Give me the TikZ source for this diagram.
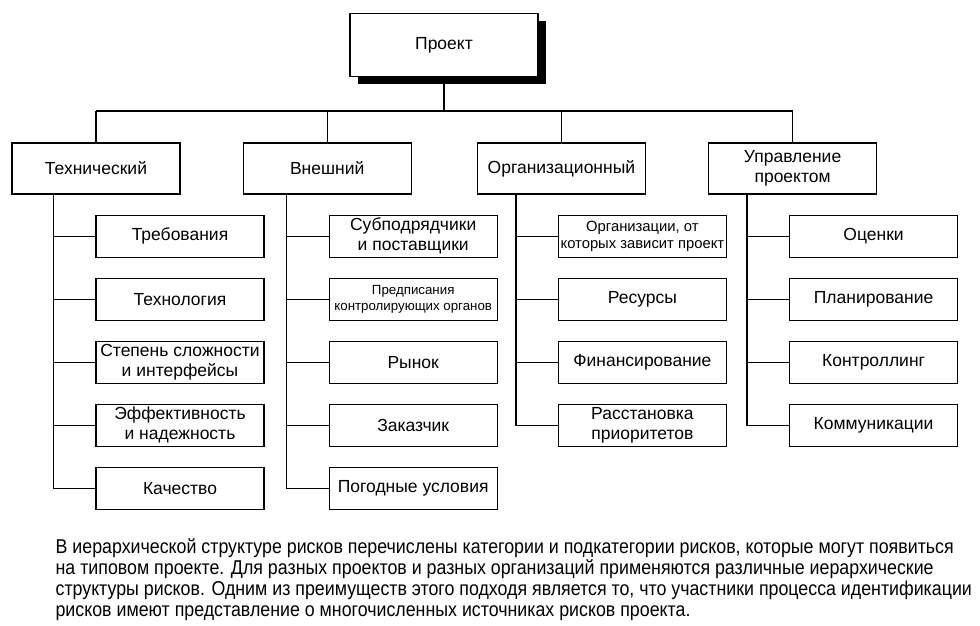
\documentclass[tikz,border=0pt]{standalone}
\usepackage{fontspec}
\setmainfont{Liberation Sans}
\newfontfamily\narrowfont[FakeStretch=0.89]{Liberation Sans}
\usetikzlibrary{positioning,shadows}

\begin{document}
\begin{tikzpicture}[x=1pt, y=-1pt, line width=1.4pt]
  \tikzstyle{every node}=[align=center, draw, rectangle, line width=1.2pt, inner sep=0pt, font=\fontsize{17.5}{20}\selectfont]
  \tikzstyle{cat}=[minimum width=168pt, minimum height=51pt]
  \tikzstyle{sub}=[minimum width=168pt, minimum height=42pt]
  \useasboundingbox (0,0) rectangle (980,626);
  % \draw [step=50, blue!20, thin] (0,0) grid (980,626);
  \node [minimum width=188pt, minimum height=63pt, fill=white,
    drop shadow={shadow xshift=8pt, shadow yshift=-8pt, fill=black, opacity=1}] (proekt) at (444,45) {Проект};
  \node [cat] (tech) at (96,168.5) {Технический};
  \node [cat, right = 62pt of tech] (ext) {Внешний};
  \node [cat, right = 65pt of ext] (org) {Организационный};
  \node [cat, right = 62pt of org] (pm) {Управление\\проектом};

  \node [sub, below right = 20pt and 84pt of tech.south west] (t1) {Требования};
  \node [sub, below = 19.8pt of t1] (t2) {Технология};
  \node [sub, below = 19.8pt of t2] (t3) {Степень сложности\\и интерфейсы};
  \node [sub, below = 19.8pt of t3] (t4) {Эффективность\\и надежность};
  \node [sub, below = 19.8pt of t4] (t5) {Качество};

  \node [sub, below right = 20pt and 86pt of ext.south west] (e1) {Субподрядчики\\и поставщики};
  \node [sub, below = 19.8pt of e1, font=\fontsize{13.3}{15.5}\selectfont] (e2) {Предписания\\контролирующих органов};
  \node [sub, below = 19.8pt of e2] (e3) {Рынок};
  \node [sub, below = 19.8pt of e3] (e4) {Заказчик};
  \node [sub, below = 19.8pt of e4] (e5) {Погодные условия};

  \node [sub, below right = 20pt and 81pt of org.south west, font=\fontsize{14.8}{17}\selectfont] (o1) {Организации, от\\которых зависит проект};
  \node [sub, below = 19.8pt of o1] (o2) {Ресурсы};
  \node [sub, below = 19.8pt of o2] (o3) {Финансирование};
  \node [sub, below = 19.8pt of o3] (o4) {Расстановка\\приоритетов};

  \node [sub, below right = 20pt and 81pt of pm.south west] (p1) {Оценки};
  \node [sub, below = 19.8pt of p1] (p2) {Планирование};
  \node [sub, below = 19.8pt of p2] (p3) {Контроллинг};
  \node [sub, below = 19.8pt of p3] (p4) {Коммуникации};

  \node [draw=none, align=left, anchor=north west, font=\narrowfont\fontsize{20}{21}\selectfont] (note) at (55,538)
    {В иерархической структуре рисков перечислены категории и подкатегории рисков, которые могут появиться\\
     на типовом проекте. Для разных проектов и разных организаций применяются различные иерархические\\
     структуры рисков. Одним из преимуществ этого подходя является то, что участники процесса идентификации\\
     рисков имеют представление о многочисленных источниках рисков проекта.};

  % root to categories
  \coordinate (bus) at (444,111);
  \draw (proekt.south) -- (bus);
  \draw (tech.north |- bus) -- (pm.north |- bus);
  \draw (tech.north |- bus) -- (tech.north);
  \draw (ext.north |- bus) -- (ext.north);
  \draw (org.north |- bus) -- (org.north);
  \draw (pm.north |- bus) -- (pm.north);

  % categories to subcategories
  \coordinate (tsp) at ([xshift=42pt]tech.south west);
  \coordinate (esp) at ([xshift=44pt]ext.south west);
  \coordinate (osp) at ([xshift=39pt]org.south west);
  \coordinate (psp) at ([xshift=39pt]pm.south west);

  \draw (tsp) |- (t5.west);
  \draw (tsp |- t1.west) -- (t1.west);
  \draw (tsp |- t2.west) -- (t2.west);
  \draw (tsp |- t3.west) -- (t3.west);
  \draw (tsp |- t4.west) -- (t4.west);

  \draw (esp) |- (e5.west);
  \draw (esp |- e1.west) -- (e1.west);
  \draw (esp |- e2.west) -- (e2.west);
  \draw (esp |- e3.west) -- (e3.west);
  \draw (esp |- e4.west) -- (e4.west);

  \draw (osp) |- (o4.west);
  \draw (osp |- o1.west) -- (o1.west);
  \draw (osp |- o2.west) -- (o2.west);
  \draw (osp |- o3.west) -- (o3.west);

  \draw (psp) |- (p4.west);
  \draw (psp |- p1.west) -- (p1.west);
  \draw (psp |- p2.west) -- (p2.west);
  \draw (psp |- p3.west) -- (p3.west);
\end{tikzpicture}
\end{document}
